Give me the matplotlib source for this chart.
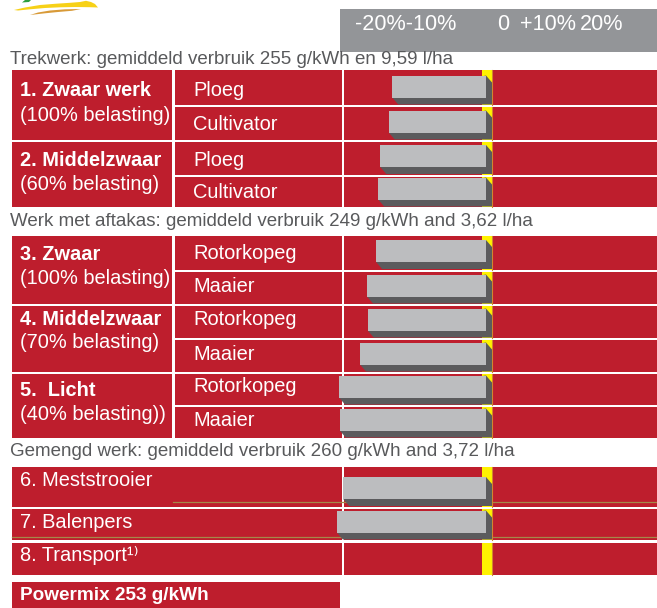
import numpy as np
import matplotlib
matplotlib.use("Agg")
import matplotlib.pyplot as plt
from matplotlib.patches import Rectangle, Polygon

plt.rcParams['font.family'] = ['Liberation Sans', 'DejaVu Sans']

# ---------------- data ----------------
header_labels = ["-20%-10%", "0", "+10%", "20%"]

section_titles = [
    "Trekwerk: gemiddeld verbruik 255 g/kWh en 9,59 l/ha",
    "Werk met aftakas: gemiddeld verbruik 249 g/kWh and 3,62 l/ha",
    "Gemengd werk: gemiddeld verbruik 260 g/kWh and 3,72 l/ha",
]

group_titles = ["1. Zwaar werk", "2. Middelzwaar", "3. Zwaar", "4. Middelzwaar", "5.  Licht"]
group_loads = ["(100% belasting)", "(60% belasting)", "(100% belasting)", "(70% belasting)", "(40% belasting))"]

sec1_tasks = ["Ploeg", "Cultivator", "Ploeg", "Cultivator"]
sec1_values = [-13.4, -13.9, -15.1, -15.4]

sec2_tasks = ["Rotorkopeg", "Maaier", "Rotorkopeg", "Maaier", "Rotorkopeg", "Maaier"]
sec2_values = [-15.7, -17.0, -16.9, -18.0, -21.0, -20.9]

sec3_tasks = ["6. Meststrooier", "7. Balenpers", "8. Transport\u00b9\u207e"]
sec3_values = [-20.4, -21.3, np.nan]

powermix_label = "Powermix 253 g/kWh"

# ---------------- style / layout ----------------
W, H = 657, 608
RED = "#be1e2d"
BAR = "#bcbdbf"
SHADOW = "#5b5b5d"
YELLOW = "#fff200"
HEADER_GRAY = "#939598"
TITLE_GRAY = "#58595b"
OLIVE = "#a5884a"

PX_PER_PCT = 7.0
ZERO_PX = 486
BAR_LEFT_PX = 344

fig = plt.figure(figsize=(W / 100, H / 100), dpi=100)
ax = fig.add_axes([0, 0, 1, 1])
ax.set_xlim(0, W)
ax.set_ylim(H, 0)
ax.axis("off")

bx = fig.add_axes([BAR_LEFT_PX / W, 0, (W - BAR_LEFT_PX) / W, 1], zorder=3)
bx.set_xlim(-(ZERO_PX - BAR_LEFT_PX) / PX_PER_PCT, (W - ZERO_PX) / PX_PER_PCT)
bx.set_ylim(H, 0)
bx.axis("off")
bx.patch.set_alpha(0)

CELL_FS = 14.4
TITLE_FS = 13.5

# logo swooshes (decoration)
ax.add_patch(Polygon([(22, 2.5), (25, 0), (31, 0), (29, 2)], closed=True, color="#2e9e3e", lw=0))
ax.add_patch(Polygon([(14, 10), (25, 7.5), (40, 5), (55, 3.8), (70, 2.8), (80, 2), (86, 0.8),
                      (91, 2), (95, 4), (98, 7.5), (90, 7.2), (75, 7), (60, 7.3), (45, 8),
                      (30, 9.3), (18, 10.5)], closed=True, color="#f7d117", lw=0))
ax.add_patch(Polygon([(30, 15), (38, 12.5), (50, 10.5), (65, 9.3), (81, 9), (72, 10.8),
                      (58, 12), (45, 13.3)], closed=True, color="#d89a38", lw=0))

# header
ax.add_patch(Rectangle((340, 9), W - 340, 43, color=HEADER_GRAY, lw=0))
header_x = [355, 497, 520, 580]
for lab, hx in zip(header_labels, header_x):
    ax.text(hx, 25, lab, color="white", fontsize=15.6, ha="left", va="center")

# section titles
title_y = [60, 222, 452]
for t, ty in zip(section_titles, title_y):
    ax.text(10, ty, t, color=TITLE_GRAY, fontsize=TITLE_FS, ha="left", va="center")

COL1 = (12, 172)
COL2 = (175, 342)
COL3 = (BAR_LEFT_PX, W)

sec1_rows = [(70, 105), (107, 140), (142, 174.5), (176.5, 207)]
sec2_rows = [(236, 269.5), (271.5, 304), (306, 338), (340, 372), (374, 405), (407, 438)]
sec3_rows = [(467, 506.5), (509, 540), (543, 574.5)]


def red(x0, x1, y0, y1):
    ax.add_patch(Rectangle((x0, y0), x1 - x0, y1 - y0, color=RED, lw=0, zorder=1))


def draw_bar(val, top, bottom):
    # yellow zero marker & thin edge
    bx.add_patch(Rectangle((-4 / PX_PER_PCT, top), 10 / PX_PER_PCT, bottom - top,
                           color=YELLOW, lw=0, zorder=1))
    bx.plot([6 / PX_PER_PCT] * 2, [top, bottom], color="#d0862e", lw=0.8, zorder=1.5)
    if np.isnan(val):
        return
    dy = 7
    bb = bottom - 0.5 - dy
    bt = bb - 22
    d = 6 / PX_PER_PCT
    bx.add_patch(Polygon([(val, bb), (val + d, bb + dy), (d, bb + dy), (d, bt + dy), (0, bt)],
                         closed=True, color=SHADOW, lw=0, zorder=2, clip_on=False))
    bx.barh((bt + bb) / 2, val, height=bb - bt, left=0, color=BAR, lw=0, zorder=3,
            clip_on=False)


# sections 1 & 2
groups = [(sec1_rows, sec1_tasks, sec1_values, 0, [2.5, 0.5, 2.5, 0.5]),
          (sec2_rows, sec2_tasks, sec2_values, 2, [1, -1.5, -2.5, -2, -2.5, -2.5])]
group_off = [(3.5, 28), (2.5, 26.5), (1.5, 26), (-2.5, 21), (0.5, 24.5)]
for rows, tasks, vals, g0, toffs in groups:
    for k in range(len(rows) // 2):
        r1, r2 = rows[2 * k], rows[2 * k + 1]
        red(COL1[0], COL1[1], r1[0], r2[1])
        c1 = (r1[0] + r1[1]) / 2
        o1, o2 = group_off[g0 + k]
        ax.text(20, c1 + o1, group_titles[g0 + k], color="white", fontsize=CELL_FS,
                fontweight="bold", ha="left", va="center", zorder=4)
        ax.text(20, c1 + o2, group_loads[g0 + k], color="white", fontsize=CELL_FS,
                ha="left", va="center", zorder=4)
    for (t, b), task, v, off in zip(rows, tasks, vals, toffs):
        red(COL2[0], COL2[1], t, b)
        red(COL3[0], COL3[1], t, b)
        ax.text(193, (t + b) / 2 + off, task, color="white", fontsize=CELL_FS,
                ha="left", va="center", zorder=4)
        draw_bar(v, t, b)

# section 3
text_off = [-6, -1.5, -3.5]
for (t, b), task, v, off in zip(sec3_rows, sec3_tasks, sec3_values, text_off):
    red(COL1[0], COL2[1], t, b)
    red(COL3[0], COL3[1], t, b)
    ax.text(20, (t + b) / 2 + off, task, color="white", fontsize=CELL_FS,
            ha="left", va="center", zorder=4)
# thin olive rule lines
ax.plot([173, W], [502.3, 502.3], color=OLIVE, lw=0.9, zorder=1.5)
ax.plot([12, W], [537.3, 537.3], color=OLIVE, lw=0.9, zorder=1.5)
for (t, b), v in zip(sec3_rows, sec3_values):
    draw_bar(v, t, b)

# powermix
ax.add_patch(Rectangle((12, 582), 328, 26, color=RED, lw=0))
ax.text(20, 595.5, powermix_label, color="white", fontsize=13.7, fontweight="bold",
        ha="left", va="center")

fig.savefig("out.png", dpi=100)
